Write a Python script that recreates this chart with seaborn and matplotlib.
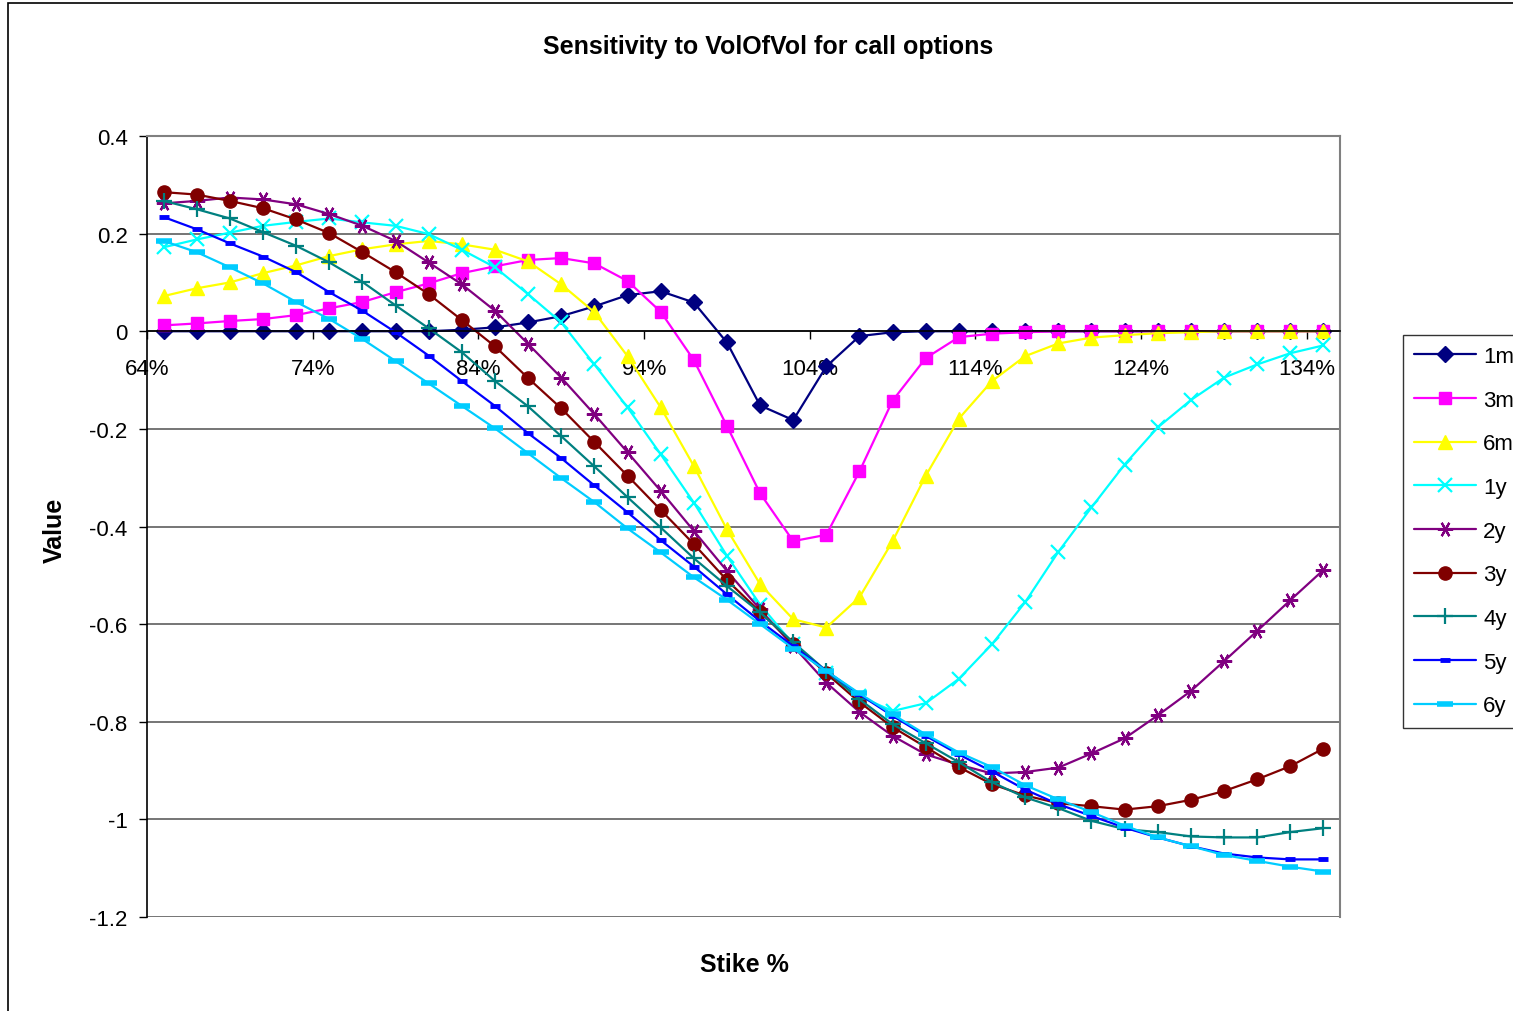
import numpy as np
import pandas as pd
import matplotlib
matplotlib.use("Agg")
import matplotlib.pyplot as plt
import seaborn as sns
from matplotlib.patches import Rectangle

sns.set_style("white")
plt.rcParams['font.family'] = ['Liberation Sans', 'DejaVu Sans']
plt.rcParams['axes.unicode_minus'] = False
plt.rcParams.update({'text.color': 'black', 'xtick.color': 'black',
                     'ytick.color': 'black', 'axes.labelcolor': 'black'})

# strike categories (64% .. 134%, step 2%)
strikes = [f"{k}%" for k in range(64, 136, 2)]

tenors = ["1m", "3m", "6m", "1y", "2y", "3y", "4y", "5y", "6y"]

v_1m = [0, 0, 0, 0, 0, 0, 0, 0, 0, 0.003, 0.008, 0.018, 0.031, 0.051, 0.074, 0.082,
        0.059, -0.023, -0.152, -0.182, -0.072, -0.010, -0.002, 0, 0, 0, 0, 0, 0, 0,
        0, 0, 0, 0, 0, 0]
v_3m = [0.012, 0.016, 0.021, 0.025, 0.033, 0.047, 0.060, 0.080, 0.098, 0.119, 0.133, 0.146,
        0.150, 0.139, 0.103, 0.040, -0.059, -0.194, -0.332, -0.430, -0.417, -0.287, -0.142,
        -0.055, -0.012, -0.005, -0.002, 0, 0, 0, 0, 0, 0, 0, 0, 0]
v_6m = [0.072, 0.088, 0.100, 0.119, 0.135, 0.154, 0.168, 0.178, 0.185, 0.178, 0.167, 0.143,
        0.096, 0.039, -0.051, -0.156, -0.276, -0.406, -0.518, -0.590, -0.607, -0.545, -0.430,
        -0.296, -0.179, -0.102, -0.051, -0.025, -0.013, -0.008, -0.004, -0.002, 0, 0, 0, 0]
v_1y = [0.172, 0.188, 0.202, 0.216, 0.224, 0.231, 0.223, 0.216, 0.199, 0.167, 0.131, 0.076,
        0.018, -0.068, -0.156, -0.252, -0.351, -0.460, -0.560, -0.641, -0.700, -0.748, -0.778,
        -0.762, -0.712, -0.641, -0.555, -0.452, -0.361, -0.273, -0.197, -0.141, -0.095,
        -0.068, -0.045, -0.029]
v_2y = [0.262, 0.267, 0.274, 0.270, 0.260, 0.240, 0.216, 0.185, 0.141, 0.096, 0.042, -0.026,
        -0.095, -0.170, -0.248, -0.327, -0.409, -0.491, -0.570, -0.645, -0.720, -0.780, -0.829,
        -0.867, -0.888, -0.906, -0.903, -0.894, -0.865, -0.834, -0.787, -0.737, -0.676,
        -0.614, -0.551, -0.489]
v_3y = [0.285, 0.280, 0.267, 0.252, 0.229, 0.201, 0.162, 0.121, 0.076, 0.023, -0.031, -0.096,
        -0.158, -0.227, -0.296, -0.366, -0.436, -0.510, -0.575, -0.640, -0.701, -0.760, -0.811,
        -0.852, -0.893, -0.928, -0.951, -0.967, -0.973, -0.980, -0.973, -0.960, -0.942,
        -0.918, -0.891, -0.855]
v_4y = [0.267, 0.250, 0.231, 0.203, 0.175, 0.141, 0.101, 0.053, 0.006, -0.043, -0.102, -0.154,
        -0.215, -0.277, -0.340, -0.402, -0.465, -0.522, -0.576, -0.637, -0.696, -0.754, -0.805,
        -0.844, -0.883, -0.924, -0.955, -0.977, -1.003, -1.020, -1.026, -1.035, -1.037,
        -1.037, -1.026, -1.018]
v_5y = [0.234, 0.209, 0.180, 0.153, 0.121, 0.080, 0.042, -0.002, -0.050, -0.102, -0.153, -0.209,
        -0.260, -0.316, -0.371, -0.428, -0.482, -0.539, -0.594, -0.645, -0.696, -0.744, -0.788,
        -0.829, -0.867, -0.902, -0.939, -0.969, -0.993, -1.017, -1.037, -1.055, -1.070,
        -1.078, -1.082, -1.082]
v_6y = [0.185, 0.162, 0.131, 0.098, 0.060, 0.025, -0.016, -0.061, -0.107, -0.153, -0.199, -0.250,
        -0.301, -0.350, -0.404, -0.453, -0.504, -0.550, -0.600, -0.650, -0.696, -0.742, -0.785,
        -0.826, -0.863, -0.893, -0.930, -0.959, -0.985, -1.013, -1.037, -1.055, -1.073,
        -1.085, -1.097, -1.107]

series = [v_1m, v_3m, v_6m, v_1y, v_2y, v_3y, v_4y, v_5y, v_6y]

colors = ["#000080", "#FF00FF", "#FFFF00", "#00FFFF", "#800080", "#800000", "#008080",
          "#0000FF", "#00CCFF"]
markers = ["D", "s", "^", "x", (6, 2, 90), "o", "+", "_", "_"]
msizes = [8, 8.5, 10, 10, 11, 9.5, 11, 7, 11]
mews = [1, 1, 1, 1.6, 1.6, 1, 1.6, 3.5, 4]

fig = plt.figure(figsize=(15.13, 10.12), dpi=100)
ax = fig.add_axes([147 / 1513, 1 - 918 / 1012, (1340 - 147) / 1513, (918 - 137) / 1012])

pos = np.arange(len(strikes))
for name, vals, c, m, ms, mw in zip(tenors, series, colors, markers, msizes, mews):
    sns.lineplot(x=pos, y=vals, ax=ax, color=c, marker=m, markersize=ms,
                 markeredgecolor=c, markerfacecolor=c, markeredgewidth=mw,
                 linewidth=1.6, label=name, legend=False)

ax.set_xlim(-0.5, len(strikes) - 0.5)
ax.set_ylim(-1.2, 0.4)
yt = np.round(np.arange(-1.2, 0.41, 0.2), 1) + 0.0
ax.set_yticks(yt)
ax.set_yticklabels(["0" if abs(v) < 1e-9 else f"{v:g}" for v in yt])
xt = np.arange(-0.5, len(strikes) - 0.5, 5)
ax.set_xticks(xt)
ax.set_xticklabels(strikes[::5])

for v in yt:
    ax.axhline(v, color="#505050", linewidth=1.1, zorder=0)

ax.spines['bottom'].set_position(('data', 0))
ax.spines['bottom'].set_color('black')
ax.spines['bottom'].set_linewidth(1.2)
ax.spines['left'].set_color('black')
ax.spines['left'].set_linewidth(1.2)
ax.spines['top'].set_color('#808080')
ax.spines['top'].set_linewidth(1.5)
ax.spines['right'].set_color('#808080')
ax.spines['right'].set_linewidth(1.5)

ax.tick_params(axis='x', direction='out', length=6, width=1, pad=13, labelsize=16,
               bottom=True, color='black', labelcolor='black')
ax.tick_params(axis='y', direction='out', length=6, width=1, pad=8, labelsize=16,
               left=True, color='black', labelcolor='black')
ax.set_xlabel("")
ax.set_ylabel("")

fig.text(768 / 1513, 1 - 47 / 1012, "Sensitivity to VolOfVol for call options",
         ha='center', va='center', fontsize=18, fontweight='bold', color='black')
fig.text(744 / 1513, 1 - 965 / 1012, "Stike %", ha='center', va='center',
         fontsize=18, fontweight='bold', color='black')
fig.text(55 / 1513, 1 - 530 / 1012, "Value", ha='center', va='center',
         fontsize=18, fontweight='bold', rotation=90, color='black')

# chart area border (cut off at right and bottom)
fig.patches.append(Rectangle((8 / 1513, -0.1), 1.2, 1.1 - 4 / 1012, transform=fig.transFigure,
                             fill=False, edgecolor='black', linewidth=1.2))

handles, labels = ax.get_legend_handles_labels()
leg = fig.legend(handles, labels, loc='upper left', bbox_to_anchor=(1403 / 1513, 1 - 336 / 1012),
                 frameon=True, fancybox=False, edgecolor='black', fontsize=16,
                 handlelength=2.8, labelspacing=1.02, borderaxespad=0, borderpad=0.5,
                 handletextpad=0.3, labelcolor='black')
leg.get_frame().set_linewidth(1.0)

fig.savefig("out.png", dpi=100)
